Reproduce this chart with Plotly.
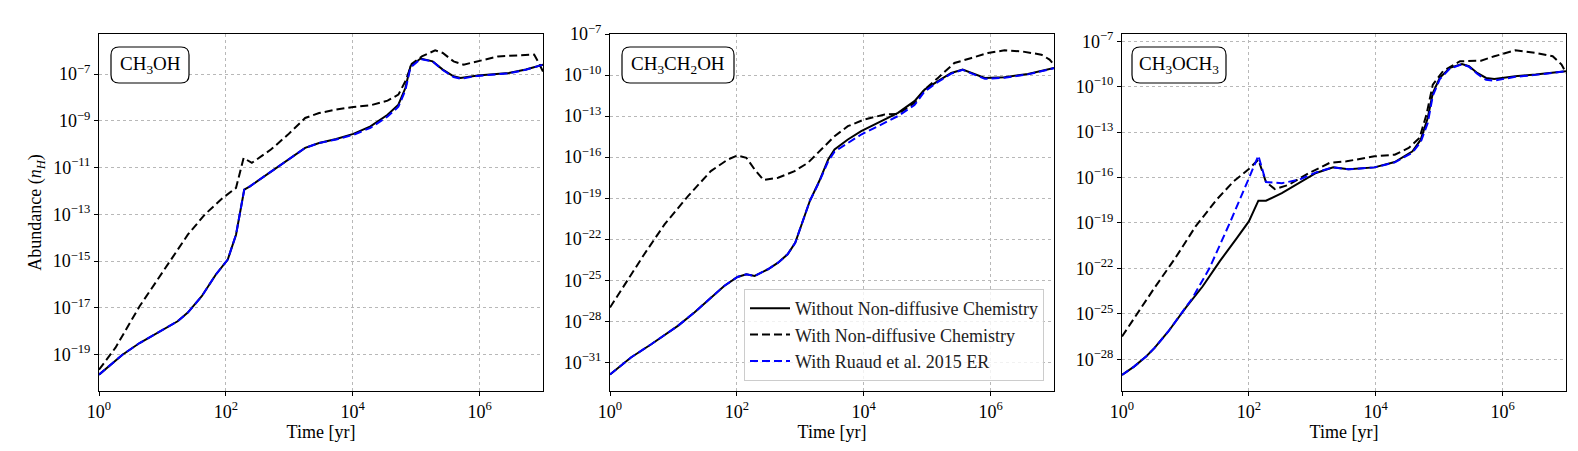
import numpy as np
import plotly.graph_objects as go

# ---------------- data (log10 time [yr], log10 abundance) ----------------
# Panel 1: CH3OH
m1_solid_t = [0, 0.37, 0.64, 1.02, 1.24, 1.40, 1.62, 1.84, 2.03, 2.16, 2.22, 2.29, 2.38, 2.65, 2.92, 3.25,
              3.47, 3.74, 4.01, 4.28, 4.55, 4.72, 4.83, 4.91, 5.07, 5.26, 5.42, 5.59, 5.70, 5.97, 6.46, 6.73, 7.0]
m1_solid_y = [-19.85, -19.0, -18.5, -17.93, -17.57, -17.2, -16.5, -15.58, -14.93, -13.87, -13.0, -11.94, -11.8,
              -11.3, -10.8, -10.16, -9.95, -9.78, -9.56, -9.24, -8.74, -8.31, -7.6, -6.67, -6.34, -6.46, -6.81,
              -7.1, -7.17, -7.06, -6.96, -6.81, -6.6]
m1_nd_t = [0, 0.26, 0.64, 1.08, 1.40, 1.67, 1.95, 2.16, 2.28, 2.41, 2.71, 2.98, 3.25, 3.47, 3.74, 4.01, 4.28,
           4.55, 4.72, 4.83, 4.93, 5.09, 5.30, 5.42, 5.59, 5.75, 5.97, 6.29, 6.62, 6.86, 6.92, 7.0]
m1_nd_y = [-19.64, -18.7, -16.93, -15.15, -13.87, -13.0, -12.3, -11.87, -10.59, -10.8, -10.23, -9.59, -8.88,
           -8.67, -8.52, -8.41, -8.34, -8.14, -7.88, -7.31, -6.57, -6.25, -5.99, -6.1, -6.46, -6.6, -6.46,
           -6.25, -6.2, -6.17, -6.46, -6.89]
m1_er_t = m1_solid_t
m1_er_y = [-19.85, -19.0, -18.5, -17.93, -17.57, -17.2, -16.5, -15.58, -14.93, -13.87, -13.0, -11.94, -11.8,
           -11.3, -10.8, -10.16, -9.95, -9.8, -9.6, -9.3, -8.82, -8.4, -7.7, -6.72, -6.36, -6.46, -6.83,
           -7.13, -7.2, -7.08, -6.97, -6.82, -6.6]

# Panel 2: CH3CH2OH
m2_solid_t = [0, 0.33, 0.65, 1.07, 1.33, 1.59, 1.80, 2.01, 2.15, 2.28, 2.49, 2.65, 2.80, 2.92, 3.04, 3.15, 3.30,
              3.44, 3.54, 3.75, 3.96, 4.22, 4.54, 4.80, 4.96, 5.17, 5.38, 5.56, 5.70, 5.91, 6.22, 6.59, 7.0]
m2_solid_y = [-31.9, -30.65, -29.68, -28.34, -27.36, -26.27, -25.42, -24.76, -24.57, -24.69, -24.2, -23.72,
              -23.1, -22.26, -20.67, -19.21, -17.75, -16.17, -15.44, -14.71, -14.1, -13.5, -12.77, -11.91,
              -11.06, -10.45, -9.85, -9.6, -9.85, -10.21, -10.16, -9.92, -9.48]
m2_nd_t = [0, 0.23, 0.54, 0.86, 1.23, 1.59, 1.86, 2.01, 2.15, 2.28, 2.42, 2.65, 2.91, 3.12, 3.33, 3.54, 3.75,
           4.01, 4.33, 4.54, 4.80, 4.96, 5.17, 5.43, 5.70, 5.96, 6.22, 6.49, 6.80, 6.93, 7.0]
m2_nd_y = [-27.0, -25.3, -23.1, -20.92, -18.85, -17.02, -16.17, -15.88, -16.05, -16.9, -17.68, -17.51, -17.02,
           -16.42, -15.44, -14.47, -13.74, -13.25, -12.89, -12.84, -12.04, -11.06, -10.21, -9.12, -8.75,
           -8.39, -8.19, -8.27, -8.51, -8.87, -9.24]
m2_er_t = m2_solid_t
m2_er_y = [-31.9, -30.65, -29.68, -28.34, -27.36, -26.27, -25.42, -24.76, -24.57, -24.69, -24.2, -23.72,
           -23.1, -22.26, -20.67, -19.21, -17.8, -16.3, -15.6, -14.95, -14.35, -13.75, -13.0, -12.2,
           -11.2, -10.5, -9.9, -9.62, -9.9, -10.28, -10.2, -9.95, -9.5]

# Panel 3: CH3OCH3
m3_solid_t = [0, 0.19, 0.38, 0.51, 0.73, 1.0, 1.27, 1.54, 1.81, 2.0, 2.15, 2.27, 2.52, 2.79, 3.06, 3.33, 3.57,
              3.98, 4.30, 4.58, 4.71, 4.82, 4.90, 5.01, 5.17, 5.36, 5.47, 5.60, 5.74, 5.87, 6.20, 6.52, 7.0]
m3_solid_y = [-29.04, -28.49, -27.82, -27.27, -26.17, -24.63, -23.2, -21.54, -20.0, -18.9, -17.53, -17.53,
              -17.03, -16.37, -15.7, -15.33, -15.46, -15.33, -14.98, -14.27, -13.5, -12.07, -10.42, -9.42,
              -8.76, -8.5, -8.65, -9.09, -9.42, -9.49, -9.31, -9.2, -8.98]
m3_nd_t = [0, 0.24, 0.51, 0.84, 1.16, 1.49, 1.76, 2.0, 2.15, 2.27, 2.41, 2.63, 2.95, 3.27, 3.54, 3.98, 4.30,
           4.52, 4.69, 4.80, 4.90, 5.06, 5.33, 5.66, 5.87, 6.20, 6.52, 6.79, 6.93, 7.0]
m3_nd_y = [-26.5, -24.96, -23.3, -21.32, -19.23, -17.47, -16.25, -15.44, -14.82, -16.3, -16.76, -16.48, -15.7,
           -15.04, -14.93, -14.6, -14.49, -14.05, -13.39, -11.85, -9.86, -8.98, -8.32, -8.28, -7.99, -7.6,
           -7.77, -7.99, -8.54, -9.09]
m3_er_t = [0, 0.19, 0.38, 0.51, 0.73, 1.11, 1.38, 1.71, 1.98, 2.15, 2.27, 2.52, 2.79, 3.06, 3.33, 3.57, 3.98,
           4.30, 4.58, 4.71, 4.82, 4.90, 5.01, 5.17, 5.36, 5.47, 5.60, 5.74, 5.87, 6.20, 6.52, 7.0]
m3_er_y = [-29.04, -28.49, -27.82, -27.27, -26.17, -23.97, -21.98, -18.9, -16.25, -14.56, -16.3, -16.37,
           -16.15, -15.66, -15.33, -15.46, -15.33, -15.0, -14.35, -13.65, -12.4, -10.6, -9.5, -8.8, -8.52,
           -8.68, -9.15, -9.55, -9.6, -9.35, -9.22, -8.98]

panel_names = ["CH<sub>3</sub>OH", "CH<sub>3</sub>CH<sub>2</sub>OH", "CH<sub>3</sub>OCH<sub>3</sub>"]
series_names = ["Without Non-diffusive Chemistry", "With Non-diffusive Chemistry", "With Ruaud et al. 2015 ER"]

x_tick_exps = [0, 2, 4, 6]
y_tick_exps = [
    [-7, -9, -11, -13, -15, -17, -19],
    [-7, -10, -13, -16, -19, -22, -25, -28, -31],
    [-7, -10, -13, -16, -19, -22, -25, -28],
]
y_ranges = [[-20.55, -5.29], [-33.1, -7.0], [-30.1, -6.52]]

panels = [
    (m1_solid_t, m1_solid_y, m1_nd_t, m1_nd_y, m1_er_t, m1_er_y),
    (m2_solid_t, m2_solid_y, m2_nd_t, m2_nd_y, m2_er_t, m2_er_y),
    (m3_solid_t, m3_solid_y, m3_nd_t, m3_nd_y, m3_er_t, m3_er_y),
]

# ---------------- layout geometry ----------------
W, H = 1578, 451
FONT = "'Liberation Serif', 'Times New Roman', 'DejaVu Serif', serif"
x_px = [(91, 535), (602, 1046), (1114, 1558)]
y_top, y_bot = 26, 383
box_px = [(103, 181), (614, 726), (1124, 1218)]
box_y = (39, 75)


def sup(e):
    return "10<sup>%s</sup>" % (str(e).replace("-", "\u2212"))


fig = go.Figure()
for i, (st, sy, nt, ny, et, ey) in enumerate(panels):
    xa = "x" if i == 0 else "x%d" % (i + 1)
    ya = "y" if i == 0 else "y%d" % (i + 1)
    show = (i == 1)
    fig.add_trace(go.Scatter(x=np.power(10.0, st), y=np.power(10.0, sy), mode="lines",
                             line=dict(color="black", width=2), name=series_names[0],
                             showlegend=show, xaxis=xa, yaxis=ya))
    fig.add_trace(go.Scatter(x=np.power(10.0, nt), y=np.power(10.0, ny), mode="lines",
                             line=dict(color="black", width=2, dash="8px,4px"), name=series_names[1],
                             showlegend=show, xaxis=xa, yaxis=ya))
    fig.add_trace(go.Scatter(x=np.power(10.0, et), y=np.power(10.0, ey), mode="lines",
                             line=dict(color="#0000ff", width=2, dash="8px,4px"), name=series_names[2],
                             showlegend=show, xaxis=xa, yaxis=ya))

    axis_common = dict(type="log", showline=True, linecolor="black", linewidth=1, mirror=True,
                       ticks="outside", ticklen=4, tickcolor="black", showgrid=True,
                       gridcolor="#b8b8b8", gridwidth=0.8, griddash="dot", zeroline=False,
                       automargin=False,
                       tickfont=dict(family=FONT, size=18, color="black"))
    xkey = "xaxis" if i == 0 else "xaxis%d" % (i + 1)
    ykey = "yaxis" if i == 0 else "yaxis%d" % (i + 1)
    x0, x1 = x_px[i]
    fig.layout[xkey] = dict(axis_common, anchor=ya, domain=[x0 / W, x1 / W], range=[0, 7],
                            tickvals=[10.0 ** e for e in x_tick_exps],
                            ticktext=[sup(e) for e in x_tick_exps],
                            title=dict(text="Time [yr]", font=dict(family=FONT, size=18, color="black"),
                                       standoff=2))
    ydict = dict(axis_common, anchor=xa, domain=[1 - y_bot / H, 1 - y_top / H], range=y_ranges[i],
                 tickvals=[10.0 ** e for e in y_tick_exps[i]],
                 ticktext=[sup(e) for e in y_tick_exps[i]])
    if i == 0:
        ydict["title"] = dict(text="Abundance (<i>n</i><sub><i>H</i></sub>)",
                              font=dict(family=FONT, size=18, color="black"), standoff=6)
    fig.layout[ykey] = ydict

    # rounded label box
    bx0, bx1 = box_px[i]
    by0, by1 = box_y
    r = 8
    X = lambda p: p / W
    Y = lambda p: 1 - p / H
    path = ("M {a},{b} L {c},{b} Q {d},{b} {d},{e} L {d},{f} Q {d},{g} {c},{g} "
            "L {a},{g} Q {h},{g} {h},{f} L {h},{e} Q {h},{b} {a},{b} Z").format(
        a=X(bx0 + r), b=Y(by0), c=X(bx1 - r), d=X(bx1), e=Y(by0 + r), f=Y(by1 - r), g=Y(by1), h=X(bx0))
    fig.add_shape(type="path", path=path, xref="paper", yref="paper",
                  line=dict(color="black", width=1.2), fillcolor="white")
    fig.add_annotation(x=X((bx0 + bx1) / 2), y=Y((by0 + by1) / 2), xref="paper", yref="paper",
                       text=panel_names[i], showarrow=False, xanchor="center", yanchor="middle",
                       font=dict(family=FONT, size=19, color="black"))

fig.update_layout(
    width=W, height=H, margin=dict(l=0, r=0, t=0, b=0, autoexpand=False),
    paper_bgcolor="white", plot_bgcolor="white",
    font=dict(family=FONT, size=18, color="black"),
    legend=dict(x=1036 / W, y=1 - 373 / H, xanchor="right", yanchor="bottom",
                bgcolor="rgba(255,255,255,0.8)", bordercolor="#cccccc", borderwidth=1,
                font=dict(family=FONT, size=18, color="#222222"), tracegroupgap=0,
                itemwidth=40),
)

fig.write_html("out.html")
